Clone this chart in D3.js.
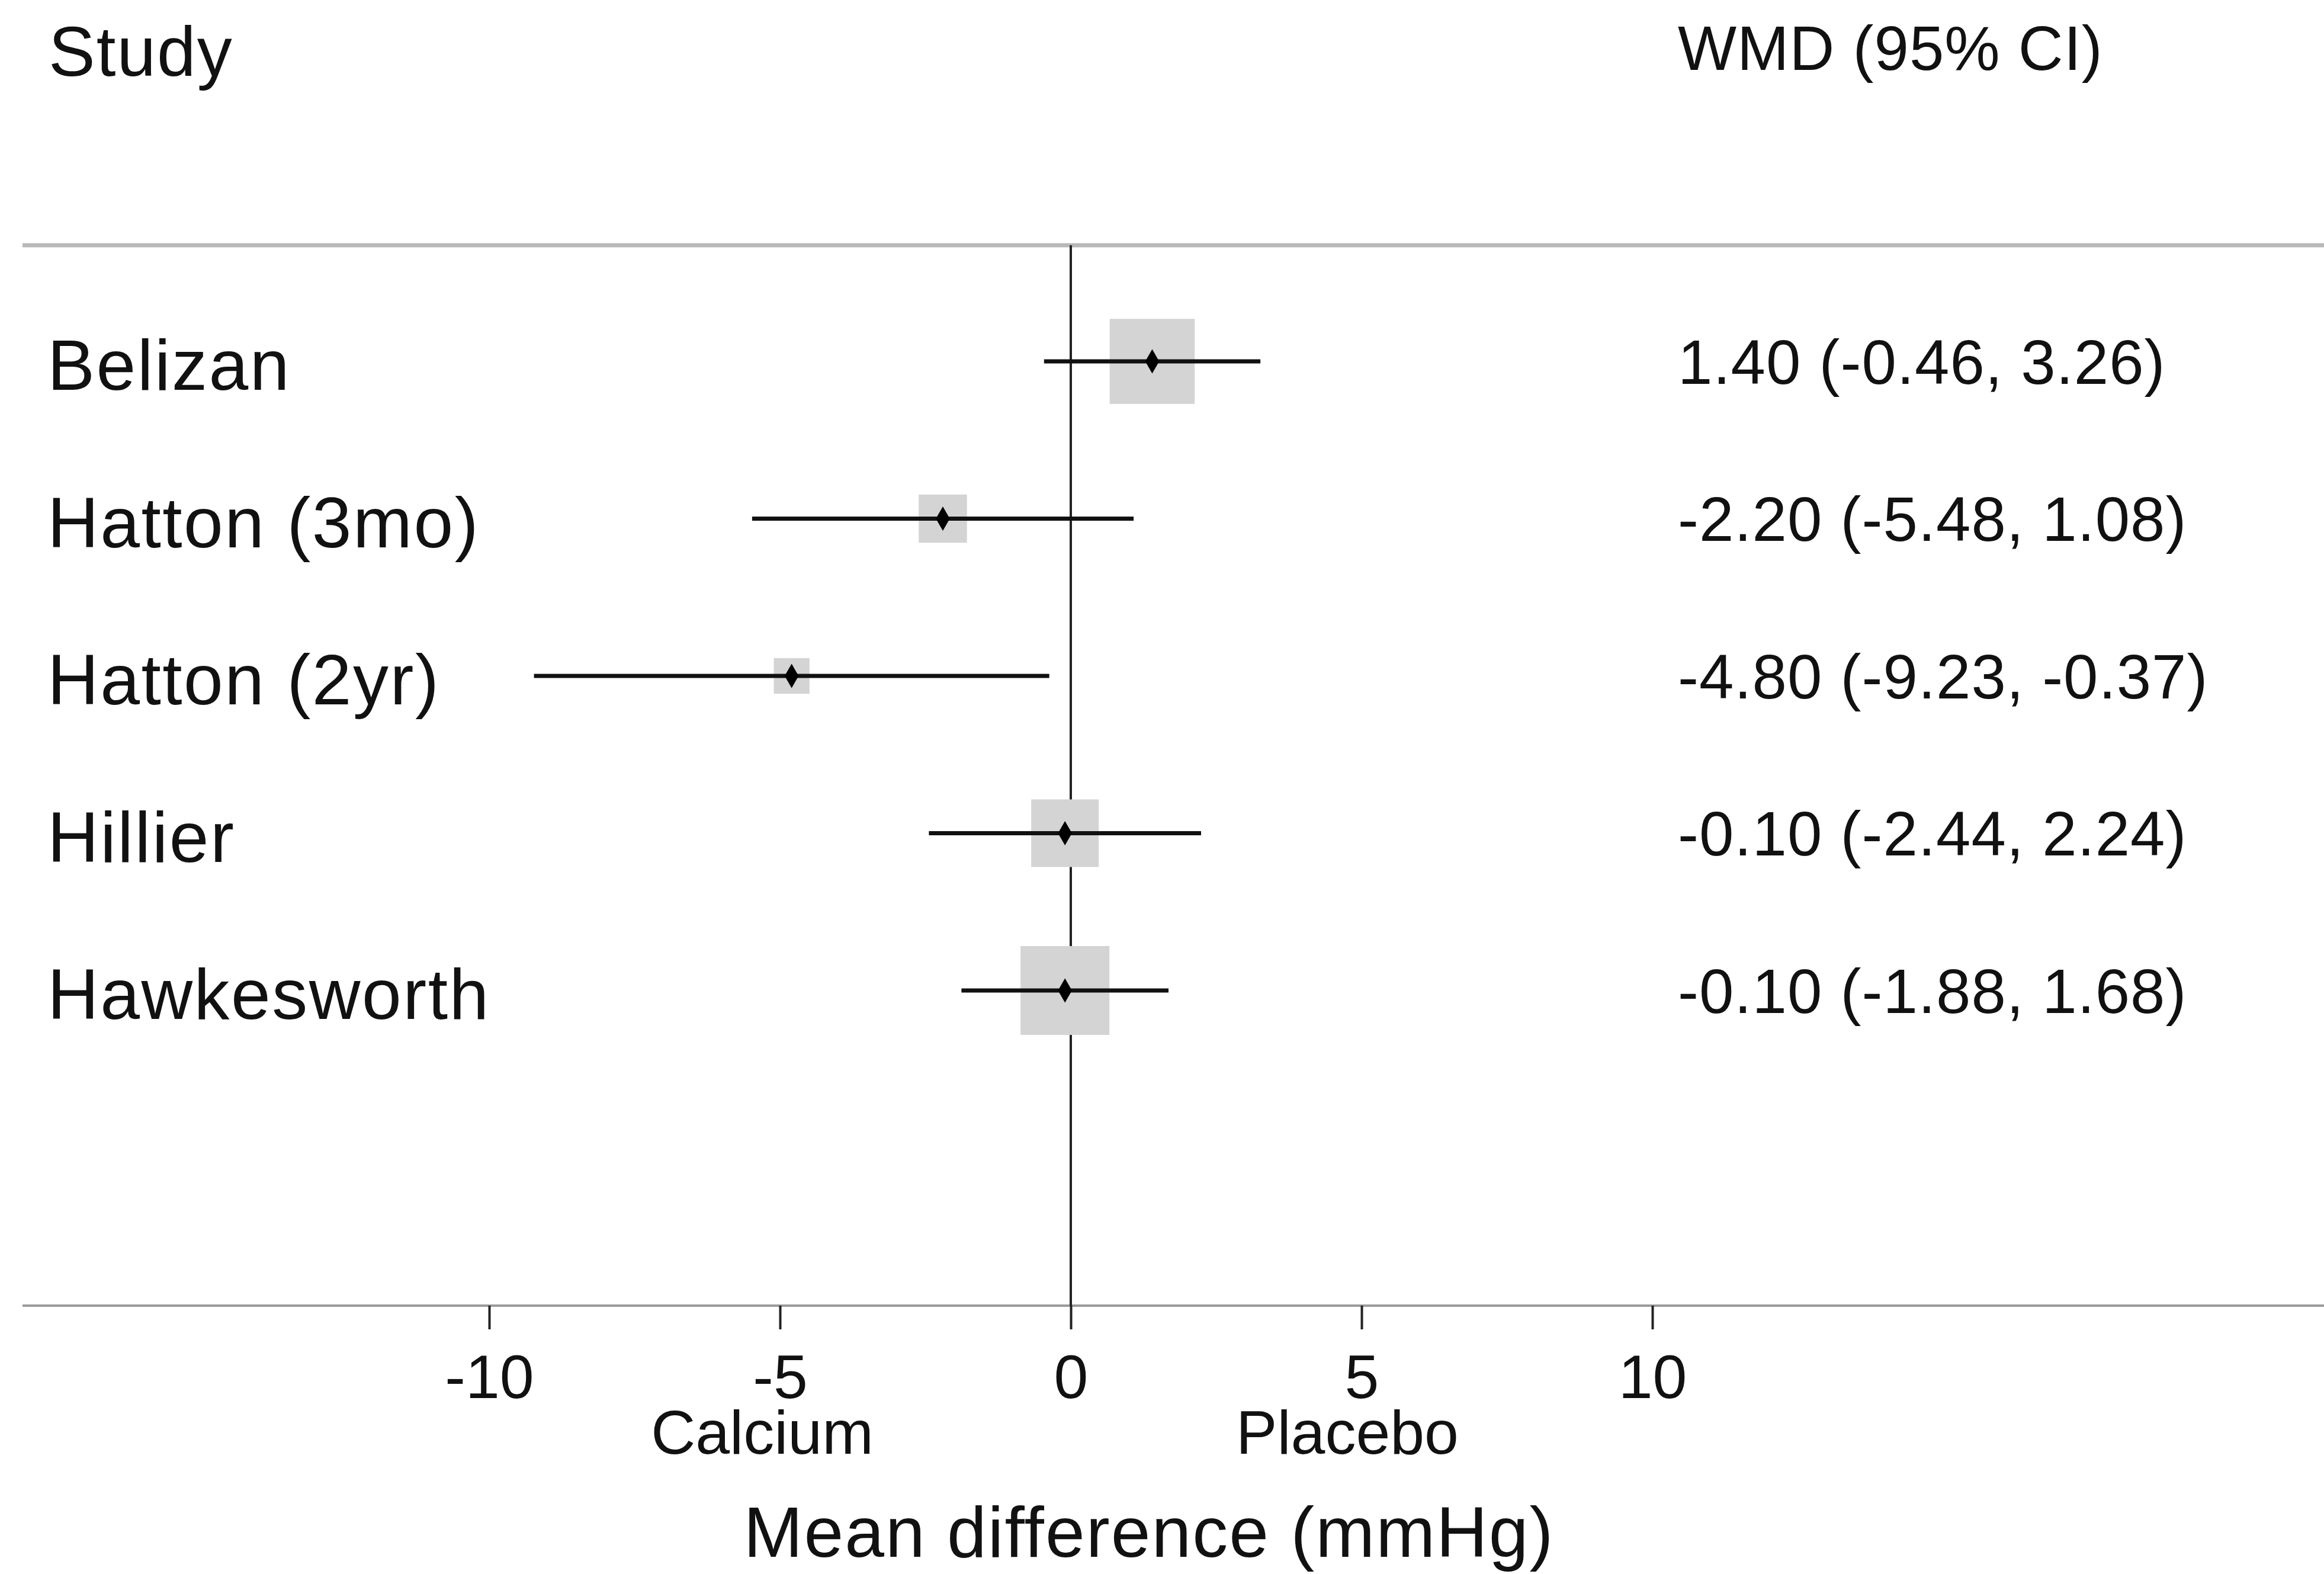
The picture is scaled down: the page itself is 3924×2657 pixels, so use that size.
<!DOCTYPE html>
<html>
<head>
<meta charset="utf-8">
<script src="https://cdnjs.cloudflare.com/ajax/libs/d3/7.8.5/d3.min.js"></script>
<style>
  body { margin: 0; background: #fff; }
  text { font-family: "Liberation Sans", Arial, sans-serif; fill: #111; }
</style>
</head>
<body>
<div id="forest"></div>
<script>
// study data (weighted mean difference, 95% CI)
var studies = ["Belizan", "Hatton (3mo)", "Hatton (2yr)", "Hillier", "Hawkesworth"];
var wmd = [1.40, -2.20, -4.80, -0.10, -0.10];
var lower = [-0.46, -5.48, -9.23, -2.44, -1.88];
var upper = [3.26, 1.08, -0.37, 2.24, 1.68];
var xTicks = [-10, -5, 0, 5, 10];

var svgWidth = 3924;
var svgHeight = 2657;

var svg = d3.select("#forest")
  .append("svg")
  .attr("width", svgWidth)
  .attr("height", svgHeight);

var rows = studies.map(function (s, i) {
  var se = (upper[i] - lower[i]) / 3.92;
  return { study: s, wmd: wmd[i], lo: lower[i], hi: upper[i], w: 1 / (se * se) };
});

// scales
var xScale = d3.scaleLinear().domain([-10, 10]).range([826, 2790]);
var yScale = d3.scalePoint().domain(studies).range([610, 1672]);
var boxScale = d3.scaleSqrt()
  .domain([0, d3.max(rows, d => d.w)])
  .range([0, 150]);

var axisY = 2204;
var headerY = 414;

// headers
svg.append("text")
  .attr("x", 82).attr("y", 128)
  .attr("font-size", 118)
  .attr("letter-spacing", 2)
  .text("Study");

svg.append("text")
  .attr("x", 2833).attr("y", 118)
  .attr("font-size", 105)
  .attr("letter-spacing", 1)
  .text("WMD (95% CI)");

// header rule and axis rule
svg.append("line")
  .attr("x1", 38).attr("x2", svgWidth)
  .attr("y1", headerY).attr("y2", headerY)
  .attr("stroke", "#b8b8b8")
  .attr("stroke-width", 7);

svg.append("line")
  .attr("x1", 38).attr("x2", svgWidth)
  .attr("y1", axisY).attr("y2", axisY)
  .attr("stroke", "#9a9a9a")
  .attr("stroke-width", 4);

// line of no effect
svg.append("line")
  .attr("x1", xScale(0)).attr("x2", xScale(0))
  .attr("y1", headerY).attr("y2", axisY)
  .attr("stroke", "#222")
  .attr("stroke-width", 4);

// x axis
var bottomAxis = d3.axisBottom(xScale)
  .tickValues(xTicks)
  .tickSize(40)
  .tickPadding(42)
  .tickFormat(d => String(d));

var axisG = svg.append("g")
  .attr("transform", `translate(0, ${axisY})`)
  .call(bottomAxis);

axisG.select(".domain").remove();
axisG.selectAll(".tick line")
  .attr("stroke", "#222")
  .attr("stroke-width", 4);
axisG.selectAll(".tick text")
  .attr("font-family", "Liberation Sans, Arial, sans-serif")
  .attr("font-size", 104)
  .attr("fill", "#111");

// weight boxes
svg.append("g").selectAll("rect")
  .data(rows)
  .enter()
  .append("rect")
  .attr("x", d => xScale(d.wmd) - boxScale(d.w) / 2)
  .attr("y", d => yScale(d.study) - boxScale(d.w) / 2)
  .attr("width", d => boxScale(d.w))
  .attr("height", d => boxScale(d.w))
  .attr("fill", "#d4d4d4");

// confidence intervals
svg.append("g").selectAll("line")
  .data(rows)
  .enter()
  .append("line")
  .attr("x1", d => xScale(d.lo))
  .attr("x2", d => xScale(d.hi))
  .attr("y1", d => yScale(d.study))
  .attr("y2", d => yScale(d.study))
  .attr("stroke", "#111")
  .attr("stroke-width", 7);

// point estimates
svg.append("g").selectAll("path")
  .data(rows)
  .enter()
  .append("path")
  .attr("d", d3.symbol().type(d3.symbolDiamond).size(480))
  .attr("transform", d => `translate(${xScale(d.wmd)}, ${yScale(d.study)})`)
  .attr("fill", "#000");

// study labels
svg.append("g").selectAll("text")
  .data(rows)
  .enter()
  .append("text")
  .attr("x", 80)
  .attr("y", d => yScale(d.study))
  .attr("dy", "0.4em")
  .attr("font-size", 120)
  .attr("letter-spacing", 2.5)
  .text(d => d.study);

// WMD (95% CI) column
svg.append("g").selectAll("text")
  .data(rows)
  .enter()
  .append("text")
  .attr("x", 2833)
  .attr("y", d => yScale(d.study))
  .attr("dy", "0.36em")
  .attr("font-size", 105)
  .attr("letter-spacing", 1)
  .text(d => `${d.wmd.toFixed(2)} (${d.lo.toFixed(2)}, ${d.hi.toFixed(2)})`);

// favours labels
svg.append("text")
  .attr("x", xScale(-5) - 30).attr("y", 2454)
  .attr("text-anchor", "middle")
  .attr("font-size", 104)
  .text("Calcium");

svg.append("text")
  .attr("x", xScale(5) - 24).attr("y", 2454)
  .attr("text-anchor", "middle")
  .attr("font-size", 104)
  .text("Placebo");

// axis title
svg.append("text")
  .attr("x", 1940).attr("y", 2628)
  .attr("text-anchor", "middle")
  .attr("font-size", 120)
  .attr("letter-spacing", 2)
  .text("Mean difference (mmHg)");
</script>
</body>
</html>
